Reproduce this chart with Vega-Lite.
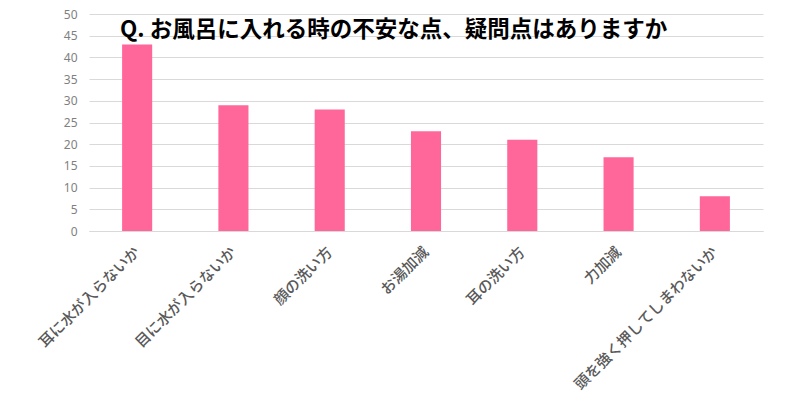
{
  "$schema": "https://vega.github.io/schema/vega-lite/v6.json",
  "width": 674,
  "height": 217,
  "autosize": {"type": "none"},
  "padding": {"left": 89, "top": 14, "right": 37, "bottom": 169},
  "background": "white",
  "title": {
    "text": "Q. お風呂に入れる時の不安な点、疑問点はありますか",
    "anchor": "start",
    "frame": "group",
    "orient": "top",
    "offset": -33,
    "dx": 31,
    "fontSize": 22.5,
    "fontWeight": "bold",
    "color": "#000000",
    "font": "Noto Sans CJK JP"
  },
  "data": {
    "values": [
      {"item": "耳に水が入らないか", "count": 43},
      {"item": "目に水が入らないか", "count": 29},
      {"item": "顔の洗い方", "count": 28},
      {"item": "お湯加減", "count": 23},
      {"item": "耳の洗い方", "count": 21},
      {"item": "力加減", "count": 17},
      {"item": "頭を強く押してしまわないか", "count": 8}
    ]
  },
  "mark": {"type": "bar", "color": "#FF6699", "width": {"band": 0.3125}},
  "encoding": {
    "x": {
      "field": "item",
      "type": "nominal",
      "sort": null,
      "scale": {"paddingInner": 0, "paddingOuter": 0},
      "axis": {
        "title": null,
        "labelAngle": -45,
        "labelAlign": "right",
        "labelBaseline": "middle",
        "labelFont": "Noto Sans CJK JP",
        "labelFontSize": 15,
        "labelFontWeight": 500,
        "labelColor": "#595959",
        "labelPadding": 18,
        "ticks": false,
        "domainColor": "#d9d9d9",
        "grid": false,
        "labelLimit": 300
      }
    },
    "y": {
      "field": "count",
      "type": "quantitative",
      "scale": {"domain": [0, 50]},
      "axis": {
        "title": null,
        "values": [0, 5, 10, 15, 20, 25, 30, 35, 40, 45, 50],
        "labelFont": "Noto Sans",
        "labelFontSize": 12,
        "labelColor": "#7f7f7f",
        "labelPadding": 12,
        "ticks": false,
        "domain": false,
        "gridColor": "#d9d9d9",
        "gridWidth": 1
      }
    }
  },
  "config": {"view": {"stroke": null}}
}
